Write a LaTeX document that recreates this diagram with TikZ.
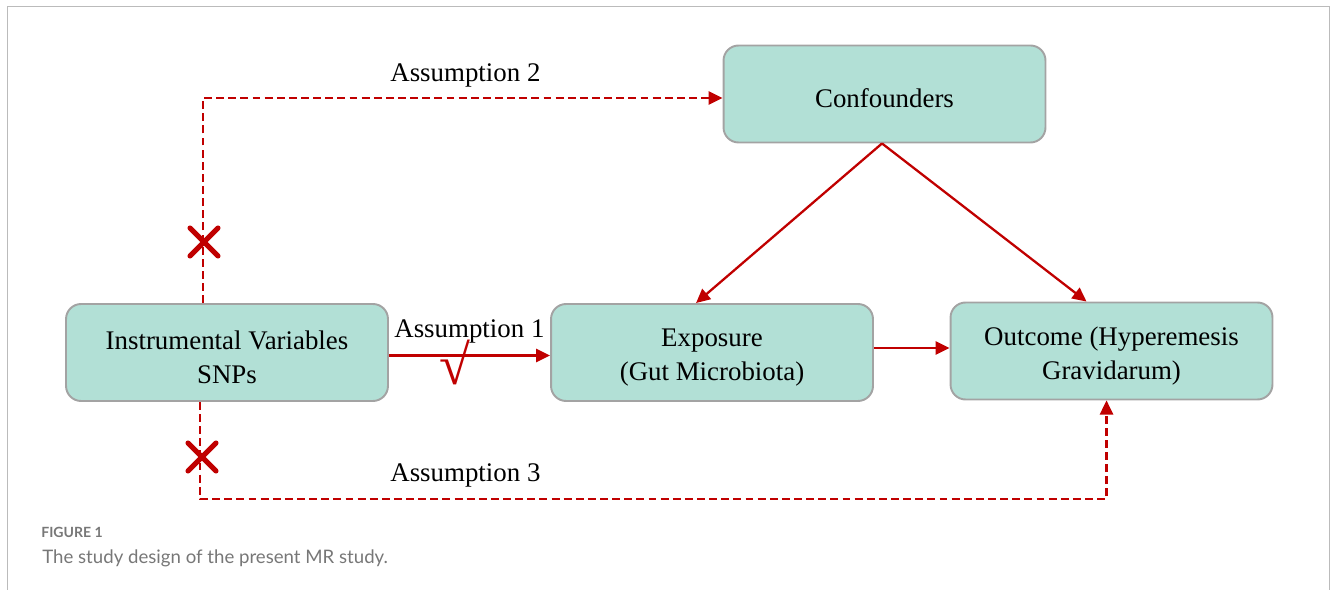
\documentclass[tikz,border=0pt]{standalone}
\usepackage{fontspec}
\setmainfont{Liberation Serif}
\newfontfamily\capfont{Lato}
\usetikzlibrary{arrows.meta}
\definecolor{boxfill}{HTML}{B2E0D6}
\definecolor{boxline}{HTML}{A3A3A3}
\definecolor{arrred}{HTML}{C00000}
\definecolor{framec}{HTML}{BBBBBB}
\definecolor{capgray}{HTML}{777777}
\newcommand{\boxstrut}{\rule{0pt}{16pt}}
\tikzset{
  boxnode/.style={draw=boxline, line width=1.1pt, fill=boxfill, rounded corners=0.3cm,
    minimum width=6.44cm, minimum height=1.94cm, align=center, inner sep=0pt,
    font=\fontsize{15.3}{19.5}\selectfont},
  lbl/.style={anchor=base west, inner sep=0pt, font=\fontsize{15.3}{19.8}\selectfont},
  solidarr/.style={draw=arrred, line width=1.3pt, -{Triangle[length=8pt,width=7.5pt]}},
  dasharr/.style={draw=arrred, line width=1.3pt, dash pattern=on 4.5pt off 2.4pt, -{Triangle[length=8pt,width=7.5pt]}},
  crossmark/.style={draw=arrred, line width=2.9pt, line cap=round},
}
\begin{document}
\begin{tikzpicture}[x=0.02cm, y=-0.02cm]
\useasboundingbox (0,0) rectangle (1331,590);
% frame
\draw[framec, line width=1.1pt] (7.5,590) -- (7.5,6.5) -- (1329.5,6.5) -- (1329.5,590);
% boxes
\node[boxnode] (iv) at (227,352.5) {\boxstrut Instrumental Variables\\SNPs};
\node[boxnode] (exp) at (712,352.5) {\boxstrut Exposure\\(Gut Microbiota)};
\node[boxnode] (out) at (1111.5,351) {\boxstrut Outcome (Hyperemesis\\Gravidarum)};
\node[boxnode] (conf) at (884.5,94) {\boxstrut Confounders};
% solid arrows
\draw[solidarr] ([yshift=-0.06cm]iv.east) -- ([yshift=-0.06cm]iv.east -| exp.west);
\draw[solidarr] ([yshift=0.09cm]exp.east) -- ([yshift=0.09cm]exp.east -| out.west);
\draw[solidarr] ([xshift=-0.05cm]conf.south) -- ([xshift=2.92cm]exp.north west);
\draw[solidarr] ([xshift=-0.05cm]conf.south) -- ([xshift=2.74cm]out.north west);
% dashed arrows
\coordinate (a2s) at ([xshift=2.76cm]iv.north west);
\draw[dasharr] (a2s) |- ([yshift=-0.08cm]conf.west);
\coordinate (a3s) at ([xshift=2.7cm]iv.south west);
\coordinate (a3e) at ([xshift=3.14cm]out.south west);
\draw[dasharr] (a3s) -- ++(0,97) -| (a3e);
% labels
\node[lbl] (l2) at (390,82) {Assumption 2};
\node[lbl] (l1) at (394,338) {Assumption 1};
\node[lbl] (l3) at (390,482) {Assumption 3};
% marks
\draw[crossmark] (190,228) -- (218,256) (190,256) -- (218,228);
\draw[crossmark] (188,443) -- (216,471) (188,471) -- (216,443);
\node[text=arrred, inner sep=0pt, font=\fontsize{32}{32}\selectfont\bfseries] (chk) at (455,362) {√};
% caption
\node[anchor=base west, inner sep=0pt, text=capgray, font=\capfont\bfseries\fontsize{8}{10}\selectfont] (fig) at (41,538) {FIGURE 1};
\node[anchor=base west, inner sep=0pt, text=capgray, font=\capfont\fontsize{10.6}{12}\selectfont] (cap) at (42,563) {The study design of the present MR study.};
\end{tikzpicture}
\end{document}
